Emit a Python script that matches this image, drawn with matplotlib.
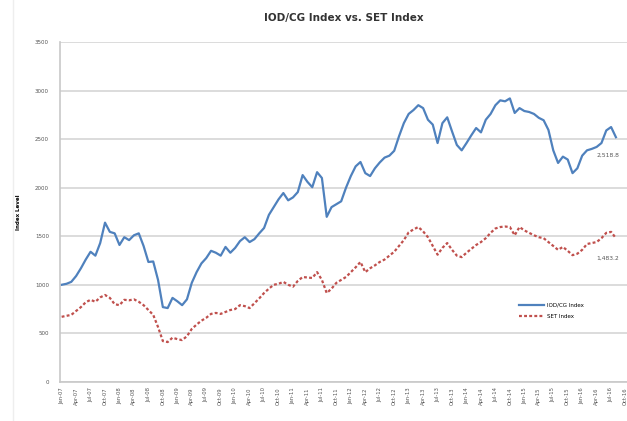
import matplotlib
matplotlib.use("Agg")
import matplotlib.pyplot as plt
import numpy as np

# monthly index levels, Jan-07 .. Aug-16
iod_cg = [1000, 1010, 1030, 1090, 1170, 1260, 1340, 1300, 1430, 1640, 1545, 1530,
          1410, 1490, 1460, 1510, 1530, 1400, 1235, 1240, 1050, 770, 760, 865,
          830, 790, 850, 1020, 1130, 1220, 1275, 1350, 1330, 1300, 1390, 1330,
          1380, 1450, 1490, 1440, 1470, 1530, 1585, 1720, 1800, 1880, 1945, 1870,
          1900, 1955, 2130, 2060, 2005, 2160, 2100, 1700, 1800, 1830, 1860, 2000,
          2120, 2220, 2265, 2150, 2120, 2200, 2260, 2310, 2330, 2380, 2530, 2665,
          2760, 2800, 2850, 2820, 2700, 2650, 2460, 2665, 2725, 2580, 2440, 2385,
          2460, 2540, 2615, 2570, 2700, 2760, 2850, 2900, 2890, 2920, 2770, 2820,
          2790, 2780, 2760, 2720, 2695, 2595, 2385, 2255, 2320, 2290, 2150, 2200,
          2330, 2385, 2400, 2420, 2460, 2590, 2625, 2520]
set_index = [670, 680, 690, 730, 770, 820, 845, 825, 870, 895, 865, 800,
             790, 845, 840, 850, 825, 790, 740, 690, 565, 420, 410, 455,
             440, 430, 470, 545, 590, 630, 660, 700, 710, 700, 720, 740,
             750, 790, 780, 760, 810, 860, 915, 960, 1000, 1010, 1030, 1000,
             980, 1040, 1080, 1075, 1070, 1130, 1050, 915, 960, 1020, 1050, 1080,
             1130, 1180, 1235, 1130, 1170, 1200, 1235, 1260, 1300, 1340, 1400, 1460,
             1540, 1570, 1595, 1550, 1490, 1400, 1310, 1380, 1430, 1360, 1300, 1285,
             1330, 1370, 1410, 1440, 1480, 1535, 1580, 1595, 1600, 1595, 1510, 1595,
             1560, 1535, 1510, 1490, 1480, 1440, 1400, 1360, 1390, 1350, 1305, 1320,
             1360, 1420, 1430, 1440, 1480, 1535, 1545, 1480]
end_labels = ["2,518.8", "1,483.2"]

months = ["Jan", "Apr", "Jul", "Oct"]
tick_labels = [f"{m}-{y:02d}" for y in range(7, 17) for m in months]
tick_pos = np.arange(len(tick_labels)) * 3
x = np.arange(len(iod_cg))

fig = plt.figure(figsize=(6.27, 4.21), dpi=100)
ax = fig.add_axes([0.096, 0.093, 0.904, 0.807])

ax.plot(x, iod_cg, color="#4f81bd", lw=1.6, label="IOD/CG Index")
ax.plot(x, set_index, color="#c0504d", lw=1.6, ls=(0, (1.3, 1.0)), label="SET Index")

ax.set_xlim(-0.3, 117.3)
ax.set_ylim(0, 3500)
ax.set_yticks(np.arange(0, 3501, 500))
ax.tick_params(axis="y", labelsize=4, length=0, colors="#555555", pad=8)
ax.set_xticks(tick_pos)
ax.set_xticklabels(tick_labels, rotation=90, fontsize=3.8, color="#555555")
ax.tick_params(axis="x", length=0, pad=4)
ax.grid(axis="y", color="#d9d9d9", lw=1.3)
ax.set_axisbelow(True)
for s in ["top", "right"]:
    ax.spines[s].set_visible(False)
for s in ["left", "bottom"]:
    ax.spines[s].set_color("#c8c8c8")
    ax.spines[s].set_linewidth(1.2)

ax.set_ylabel("Index Level", fontsize=4, fontweight="bold", labelpad=10)
ax.set_title("IOD/CG Index vs. SET Index", fontsize=7.5, fontweight="bold",
             color="#333333", pad=15)

# value labels under the last points
last = len(iod_cg) - 1
ax.text(last - 4, iod_cg[-1] - 185, end_labels[0], fontsize=4.3, color="#555555",
        va="center", ha="left", clip_on=False)
ax.text(last - 4, set_index[-1] - 205, end_labels[1], fontsize=4.3, color="#555555",
        va="center", ha="left", clip_on=False)

ax.legend(loc="lower left", bbox_to_anchor=(0.8, 0.17), frameon=False,
          fontsize=4, handlelength=4.5, labelspacing=1.1, handletextpad=0.6)

fig.add_artist(plt.Line2D([0.021, 0.021], [0, 1], color="#eeeeee", lw=1))

fig.savefig("out.png", dpi=100)
